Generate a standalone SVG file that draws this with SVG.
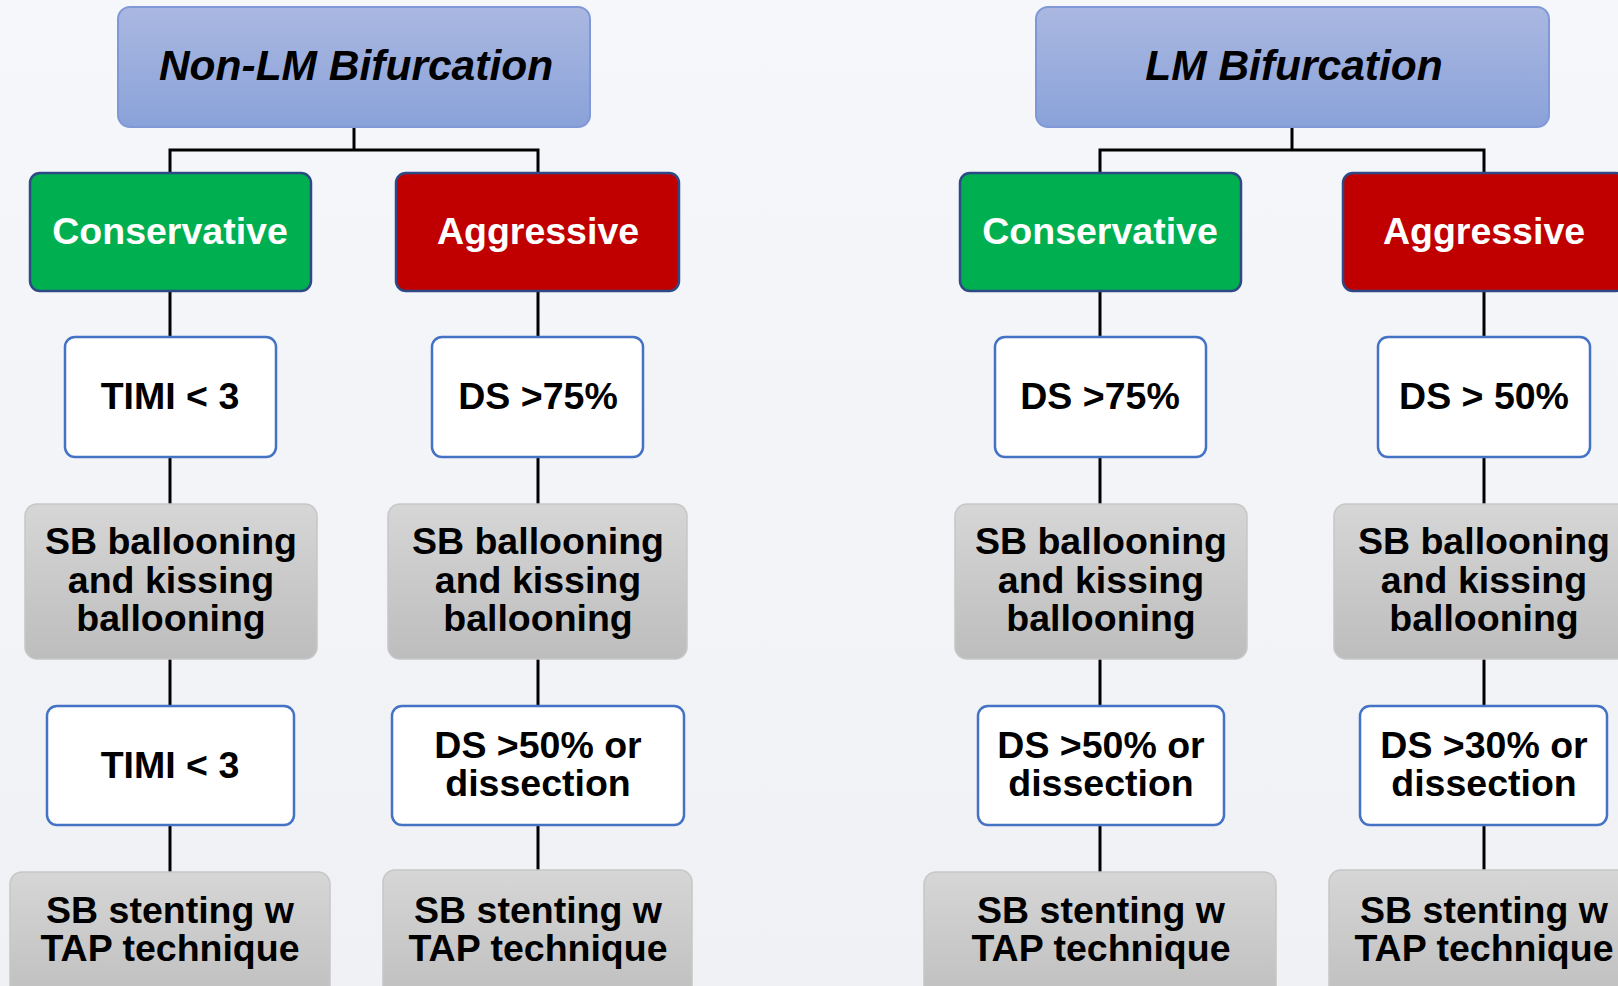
<svg xmlns="http://www.w3.org/2000/svg" width="1618" height="986" viewBox="0 0 1618 986">
<defs>
<linearGradient id="gTop" x1="0" y1="0" x2="0" y2="1"><stop offset="0" stop-color="#aab8e1"/><stop offset="1" stop-color="#8aa2d9"/></linearGradient>
<linearGradient id="gGray" x1="0" y1="0" x2="0" y2="1"><stop offset="0" stop-color="#d6d6d6"/><stop offset="1" stop-color="#bdbdbd"/></linearGradient>
<linearGradient id="gBg" x1="0" y1="0" x2="0" y2="1"><stop offset="0" stop-color="#f6f7fb"/><stop offset="1" stop-color="#f0f1f5"/></linearGradient>
<style>
text{font-family:"Liberation Sans",Arial,sans-serif;font-weight:bold;text-anchor:middle;fill:#000}
.title{font-size:42.5px;font-style:italic}
.lbl{font-size:37.5px;fill:#fff}
.t{font-size:37.5px}
.top{fill:url(#gTop);stroke:#8099d6;stroke-width:2}
.green{fill:#00b050;stroke:#2e4a86;stroke-width:2.5}
.red{fill:#c00000;stroke:#2e4a86;stroke-width:2.5}
.white{fill:#fff;stroke:#4472c4;stroke-width:2.5}
.gray{fill:url(#gGray);stroke:#c6c6c6;stroke-width:1.5}
.conn{fill:none;stroke:#000;stroke-width:3}
</style>
</defs>
<rect width="1618" height="986" fill="url(#gBg)"/>
<g id="connectors" class="conn">
<path d="M354 127V150H170V173M354 150H538V173"/>
<path d="M1292 127V150H1100V173M1292 150H1484V173"/>
<path d="M170 291V337M170 457V504M170 659V706M170 825V872"/>
<path d="M538 291V337M538 457V504M538 659V706M538 825V872"/>
<path d="M1100 291V337M1100 457V504M1100 659V706M1100 825V872"/>
<path d="M1484 291V337M1484 457V504M1484 659V706M1484 825V872"/>
</g>
<g id="nonlm"><rect class="top" x="118" y="7" width="472" height="120" rx="12"/><text class="title" x="356" y="80">Non-LM Bifurcation</text></g>
<g id="lm"><rect class="top" x="1036" y="7" width="513" height="120" rx="12"/><text class="title" x="1294" y="80">LM Bifurcation</text></g>
<g id="c1"><rect class="green" x="30" y="173" width="281" height="118" rx="10"/><text class="lbl" x="170" y="244">Conservative</text></g>
<g id="a1"><rect class="red" x="396" y="173" width="283" height="118" rx="10"/><text class="lbl" x="538" y="244">Aggressive</text></g>
<g id="c2"><rect class="green" x="960" y="173" width="281" height="118" rx="10"/><text class="lbl" x="1100" y="244">Conservative</text></g>
<g id="a2"><rect class="red" x="1343" y="173" width="283" height="118" rx="10"/><text class="lbl" x="1484" y="244">Aggressive</text></g>
<g id="c1r3"><rect class="white" x="65" y="337" width="211" height="120" rx="10"/><text class="t" x="170" y="409">TIMI &lt; 3</text></g>
<g id="a1r3"><rect class="white" x="432" y="337" width="211" height="120" rx="10"/><text class="t" x="538" y="409">DS &gt;75%</text></g>
<g id="c2r3"><rect class="white" x="995" y="337" width="211" height="120" rx="10"/><text class="t" x="1100" y="409">DS &gt;75%</text></g>
<g id="a2r3"><rect class="white" x="1378" y="337" width="212" height="120" rx="10"/><text class="t" x="1484" y="409">DS &gt; 50%</text></g>
<g id="c1r4"><rect class="gray" x="25" y="504" width="292" height="155" rx="12"/><text class="t" x="171" y="554">SB ballooning</text><text class="t" x="171" y="593">and kissing</text><text class="t" x="171" y="631">ballooning</text></g>
<g id="a1r4"><rect class="gray" x="388" y="504" width="299" height="155" rx="12"/><text class="t" x="538" y="554">SB ballooning</text><text class="t" x="538" y="593">and kissing</text><text class="t" x="538" y="631">ballooning</text></g>
<g id="c2r4"><rect class="gray" x="955" y="504" width="292" height="155" rx="12"/><text class="t" x="1101" y="554">SB ballooning</text><text class="t" x="1101" y="593">and kissing</text><text class="t" x="1101" y="631">ballooning</text></g>
<g id="a2r4"><rect class="gray" x="1334" y="504" width="300" height="155" rx="12"/><text class="t" x="1484" y="554">SB ballooning</text><text class="t" x="1484" y="593">and kissing</text><text class="t" x="1484" y="631">ballooning</text></g>
<g id="c1r5"><rect class="white" x="47" y="706" width="247" height="119" rx="10"/><text class="t" x="170" y="778">TIMI &lt; 3</text></g>
<g id="a1r5"><rect class="white" x="392" y="706" width="292" height="119" rx="10"/><text class="t" x="538" y="758">DS &gt;50% or</text><text class="t" x="538" y="796">dissection</text></g>
<g id="c2r5"><rect class="white" x="978" y="706" width="246" height="119" rx="10"/><text class="t" x="1101" y="758">DS &gt;50% or</text><text class="t" x="1101" y="796">dissection</text></g>
<g id="a2r5"><rect class="white" x="1360" y="706" width="247" height="119" rx="10"/><text class="t" x="1484" y="758">DS &gt;30% or</text><text class="t" x="1484" y="796">dissection</text></g>
<g id="c1r6"><rect class="gray" x="10" y="872" width="320" height="140" rx="12"/><text class="t" x="170" y="923">SB stenting w</text><text class="t" x="170" y="961">TAP technique</text></g>
<g id="a1r6"><rect class="gray" x="383" y="870" width="309" height="142" rx="12"/><text class="t" x="538" y="923">SB stenting w</text><text class="t" x="538" y="961">TAP technique</text></g>
<g id="c2r6"><rect class="gray" x="924" y="872" width="352" height="140" rx="12"/><text class="t" x="1101" y="923">SB stenting w</text><text class="t" x="1101" y="961">TAP technique</text></g>
<g id="a2r6"><rect class="gray" x="1329" y="870" width="310" height="142" rx="12"/><text class="t" x="1484" y="923">SB stenting w</text><text class="t" x="1484" y="961">TAP technique</text></g>
</svg>
